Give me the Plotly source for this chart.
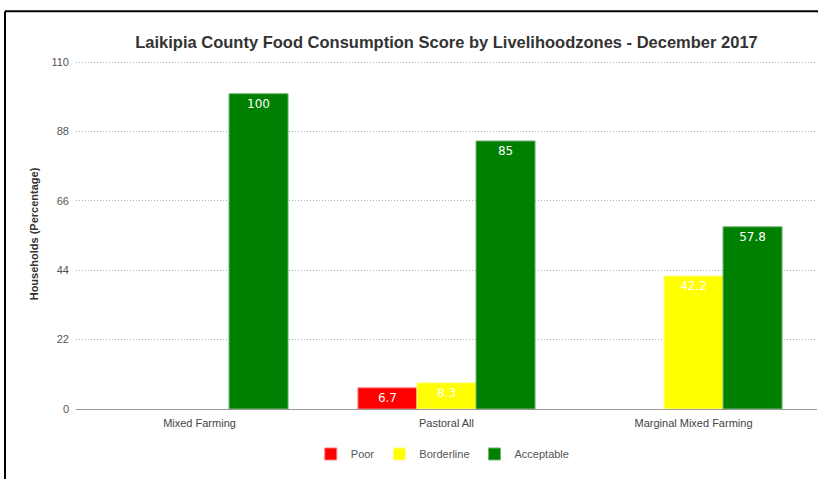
import plotly.graph_objects as go

categories = ["Mixed Farming", "Pastoral All", "Marginal Mixed Farming"]
poor = [None, 6.7, None]
borderline = [None, 8.3, 42.2]
acceptable = [100, 85, 57.8]
y_ticks = [0, 22, 44, 66, 88, 110]

series = [
    ("Poor", poor, "#FF0000", "#ff7b7b"),
    ("Borderline", borderline, "#FFFF00", "#ffff90"),
    ("Acceptable", acceptable, "#008000", "#70b870"),
]

FONT = "Liberation Sans"
Y_MAX = 111
PLOT_TOP, PLOT_BOT = 409 - 347 * Y_MAX / 110, 409
PH = PLOT_BOT - PLOT_TOP

fig = go.Figure()
for name, vals, col, edge in series:
    fig.add_trace(go.Bar(
        name=name, x=categories, y=vals,
        marker=dict(color=col, line=dict(color=edge, width=1)),
        text=[("" if v is None else f"{v:g}") for v in vals],
        textposition="inside", insidetextanchor="end", textangle=0,
        constraintext="none",
        textfont=dict(color="white", size=12, family="DejaVu Sans"),
    ))

fig.update_layout(
    width=827, height=479,
    margin=dict(l=76, r=10, t=PLOT_TOP, b=479 - PLOT_BOT),
    paper_bgcolor="white", plot_bgcolor="white",
    barmode="group", bargap=0.283, bargroupgap=0,
    font=dict(family=FONT, color="#555", size=11),
    title=dict(text="<b>Laikipia County Food Consumption Score by Livelihoodzones - December 2017</b>",
               x=0.5, xref="paper", xanchor="center", y=1 - 42 / 479, yanchor="middle",
               font=dict(size=16.5, color="#333", family=FONT)),
    showlegend=True,
    legend=dict(orientation="h", x=0.495, xanchor="center", y=(409 - 454) / PH, yanchor="middle",
                font=dict(size=11, color="#555", family=FONT), itemwidth=30),
    yaxis=dict(range=[0, Y_MAX], tickvals=y_ticks, showgrid=True, gridcolor="#b0b0b0",
               griddash="1px,2px", gridwidth=1, zeroline=False, ticks="",
               ticklabelstandoff=6,
               tickfont=dict(size=11, color="#555", family=FONT),
               title=dict(text="<b>Households (Percentage)</b>",
                          font=dict(size=11, color="#333", family=FONT),
                          standoff=10)),
    xaxis=dict(showline=True, linecolor="#999", linewidth=1, ticks="",
               ticklabelstandoff=4,
               tickfont=dict(size=11, color="#444", family=FONT)),
    shapes=[
        dict(type="line", xref="paper", yref="paper", x0=(5 - 76) / 741, x1=(818 - 76) / 741,
             y0=(409 - 11) / PH, y1=(409 - 11) / PH, line=dict(color="black", width=2)),
        dict(type="line", xref="paper", yref="paper", x0=(5 - 76) / 741, x1=(5 - 76) / 741,
             y0=(409 - 11) / PH, y1=(409 - 482) / PH, line=dict(color="black", width=2)),
    ],
)

fig.write_html("out.html", config={"displayModeBar": False},
               post_script="document.body.style.margin='0';")
